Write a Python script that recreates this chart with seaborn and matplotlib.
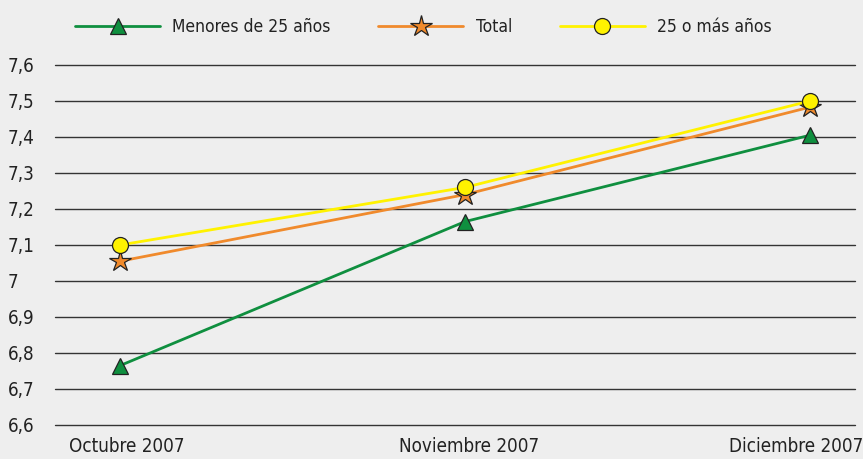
import matplotlib
matplotlib.use("Agg")
import matplotlib.pyplot as plt
from matplotlib.transforms import ScaledTranslation
import seaborn as sns
import pandas as pd

months = ["Octubre 2007", "Noviembre 2007", "Diciembre 2007"]
menores = [6.765, 7.165, 7.405]
total = [7.055, 7.24, 7.483]
mayores = [7.10, 7.26, 7.50]
y_ticks = [6.6, 6.7, 6.8, 6.9, 7.0, 7.1, 7.2, 7.3, 7.4, 7.5, 7.6]
y_labels = ["6,6", "6,7", "6,8", "6,9", "7", "7,1", "7,2", "7,3", "7,4", "7,5", "7,6"]

series_names = ["Menores de 25 años", "Total", "25 o más años"]
colors = ["#0f8f3f", "#f08a2c", "#fff200"]
markers = ["^", "*", "o"]
sizes = [12, 16, 11.5]

df = pd.DataFrame({
    "mes": months * 3,
    "valor": menores + total + mayores,
    "serie": [series_names[0]] * 3 + [series_names[1]] * 3 + [series_names[2]] * 3,
})
df["x"] = df["mes"].map({m: i for i, m in enumerate(months)})

sns.set_style("white")
plt.rcParams["font.family"] = ["DejaVu Sans"]
plt.rcParams["font.stretch"] = "condensed"

fig = plt.figure(figsize=(8.63, 4.59), dpi=100, facecolor="#eeeeee")
ax = fig.add_axes([55 / 863, 1 - 425 / 459, 800 / 863, 360 / 459])
ax.set_facecolor("#eeeeee")

for name, c, m, s in zip(series_names, colors, markers, sizes):
    sub = df[df["serie"] == name]
    sns.lineplot(data=sub, x="x", y="valor", ax=ax, color=c, lw=2.0,
                 marker=m, markersize=s, markeredgecolor="#222222",
                 markeredgewidth=0.9, label=name, zorder=3)

ax.set_xlim(-65 / 345, 2 + 45 / 345)
ax.set_ylim(6.6, 7.6)
ax.set_yticks(y_ticks)
ax.set_yticklabels(y_labels)
ax.set_xticks([0, 1, 2])
ax.set_xticklabels(months)
ax.grid(axis="y", color="#333333", lw=1.0)
for gl in ax.yaxis.get_gridlines():
    gl.set_clip_on(False)
ax.set_axisbelow(True)
for sp in ax.spines.values():
    sp.set_visible(False)
ax.tick_params(axis="both", length=0, labelsize=13.5, colors="#222222")
ax.tick_params(axis="x", pad=9)
for lbl in ax.get_yticklabels():
    lbl.set_horizontalalignment("left")
ax.yaxis.set_tick_params(pad=34)
offsets_px = [7, 4, -14]
for lbl, dx in zip(ax.get_xticklabels(), offsets_px):
    lbl.set_transform(lbl.get_transform() + ScaledTranslation(dx / 100, 0, fig.dpi_scale_trans))
ax.set_xlabel("")
ax.set_ylabel("")

ax.get_legend().remove()
handles, labels = ax.get_legend_handles_labels()
fig.legend(handles, labels, loc="center left", bbox_to_anchor=(75 / 863, 1 - 27 / 459),
           ncol=3, frameon=False, fontsize=12.5, handlelength=4.9,
           columnspacing=2.75, handletextpad=0.7, labelcolor="#222222",
           borderpad=0, borderaxespad=0)

fig.savefig("out.png", dpi=100, facecolor=fig.get_facecolor())
